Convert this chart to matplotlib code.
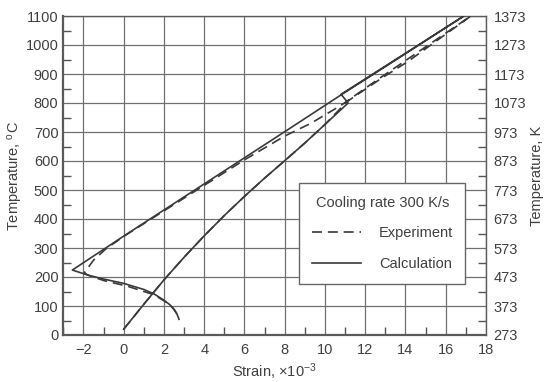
import matplotlib
matplotlib.use("Agg")
import matplotlib.pyplot as plt
from matplotlib.ticker import FixedLocator, MultipleLocator

plt.rcParams['font.family'] = ['Liberation Sans', 'DejaVu Sans']
plt.rcParams['mathtext.fontset'] = 'custom'
plt.rcParams['mathtext.rm'] = 'Liberation Sans'
plt.rcParams['mathtext.it'] = 'Liberation Sans:italic'
plt.rcParams['mathtext.bf'] = 'Liberation Sans:bold'

# Calculated dilatation: heating, transformation, heating to 1100 C,
# cooling back down, then the martensite expansion branch.
calc_strain = [0, 1, 2, 3, 4, 5, 6, 7, 8, 9, 10, 11.15,
               10.8, 16.9,
               16.9, 14, 12, 10.8, 8, 4, 0, -2.55,
               -1.8, -1, 0, 1, 1.5, 2, 2.3, 2.5, 2.65, 2.75]
calc_temp = [20, 106, 190, 268, 342, 412, 478, 541, 601, 662, 726, 800,
             830, 1100,
             1100, 970, 881, 828, 701, 521, 341, 224,
             207, 193, 178, 157, 142, 120, 104, 89, 72, 54]

# Measured dilatation (same sequence of stages)
exp_strain = [0, 1, 2, 3, 4, 5, 6, 7, 8, 9, 10, 11.1,
              12.8, 14.1, 17.25,
              17.25, 14.25, 12.6, 10.8, 9.3, 8, 6, 4, 2, 0, -0.9, -1.5, -1.95,
              -1.8, -1, 0.2, 1, 1.5, 2, 2.3, 2.5, 2.65, 2.75]
exp_temp = [20, 106, 190, 268, 342, 412, 478, 541, 601, 662, 726, 805,
            885, 942, 1100,
            1100, 958, 880, 792, 730, 686, 604, 516, 428, 340, 296, 258, 215,
            207, 188, 168, 150, 139, 118, 103, 88, 72, 54]

strain_ticks = [-2, 0, 2, 4, 6, 8, 10, 12, 14, 16, 18]
celsius_ticks = [0, 100, 200, 300, 400, 500, 600, 700, 800, 900, 1000, 1100]
kelvin_labels = ['273', '373', '473', '573', '673', '773', '873', '973',
                 '1073', '1173', '1273', '1373']

TEXT = '#404040'
GRID = '#707070'
LINE = '#3a3a3a'
FS = 10.5

fig = plt.figure(figsize=(5.46, 3.82), dpi=100)
ax = fig.add_axes([63.3 / 546, 47 / 382, 422.7 / 546, 319 / 382])

ax.plot(exp_strain, exp_temp, color=LINE, lw=1.2, dashes=(6, 3.5),
        label='Experiment', zorder=3)
ax.plot(calc_strain, calc_temp, color=LINE, lw=1.2, label='Calculation',
        zorder=4)

ax.set_xlim(-3, 18)
ax.set_ylim(0, 1100)
ax.xaxis.set_major_locator(FixedLocator(strain_ticks))
ax.xaxis.set_minor_locator(MultipleLocator(1))
ax.yaxis.set_major_locator(FixedLocator(celsius_ticks))
ax.yaxis.set_minor_locator(MultipleLocator(50))
ax.grid(True, which='major', color=GRID, lw=0.9)
ax.set_axisbelow(True)

ax.tick_params(which='major', length=0, labelsize=FS, labelcolor=TEXT)
ax.tick_params(axis='x', which='major', pad=6)
ax.tick_params(axis='y', which='major', pad=3.5)
ax.tick_params(which='minor', direction='in', length=5.5, width=1, color='#555555')
ax.tick_params(axis='x', which='minor', bottom=True, top=False)

for side, sp in ax.spines.items():
    sp.set_color('#5a5a5a')
    sp.set_linewidth(1.6 if side in ('left', 'bottom') else 1.0)

ax.set_xlabel('Strain, $\\times$10$^{-3}$', fontsize=FS, color=TEXT)
ax.set_ylabel('Temperature, $^{\\mathrm{o}}$C', fontsize=FS, color=TEXT)
ax.xaxis.set_label_coords(0.5, (335 - 371.7) / 319)
ax.xaxis.label.set_va('center')
ax.yaxis.set_label_coords((15.3 - 63.3) / 422.7, 0.5)
ax.yaxis.label.set_va('center')

# Kelvin scale on the right
ax2 = ax.twinx()
ax2.set_ylim(ax.get_ylim())
ax2.yaxis.set_major_locator(FixedLocator(celsius_ticks))
ax2.set_yticklabels(kelvin_labels)
ax2.yaxis.set_minor_locator(MultipleLocator(50))
ax2.tick_params(which='major', length=0, labelsize=FS, labelcolor=TEXT, pad=5.5)
ax2.tick_params(which='minor', direction='in', length=5.5, width=1, color='#555555')
for sp in ax2.spines.values():
    sp.set_visible(False)
ax2.set_ylabel('Temperature, K', fontsize=FS, color=TEXT, rotation=90)
ax2.yaxis.set_label_coords((536.7 - 63.3) / 422.7, 0.5)
ax2.yaxis.label.set_va('center')

leg = ax.legend(title='Cooling rate 300 K/s', loc='upper left',
                bbox_to_anchor=((299.3 - 63.3) / 422.7, (335 - 183.3) / 319),
                borderaxespad=0, fontsize=FS, title_fontsize=FS,
                handlelength=3.4, handletextpad=1.2, borderpad=0.85,
                labelspacing=1.15, fancybox=False, framealpha=1,
                edgecolor='#666666', labelcolor=TEXT)
leg.get_title().set_color(TEXT)
leg.get_frame().set_linewidth(1.0)
leg.set_zorder(10)

fig.savefig('out.png', dpi=100)
